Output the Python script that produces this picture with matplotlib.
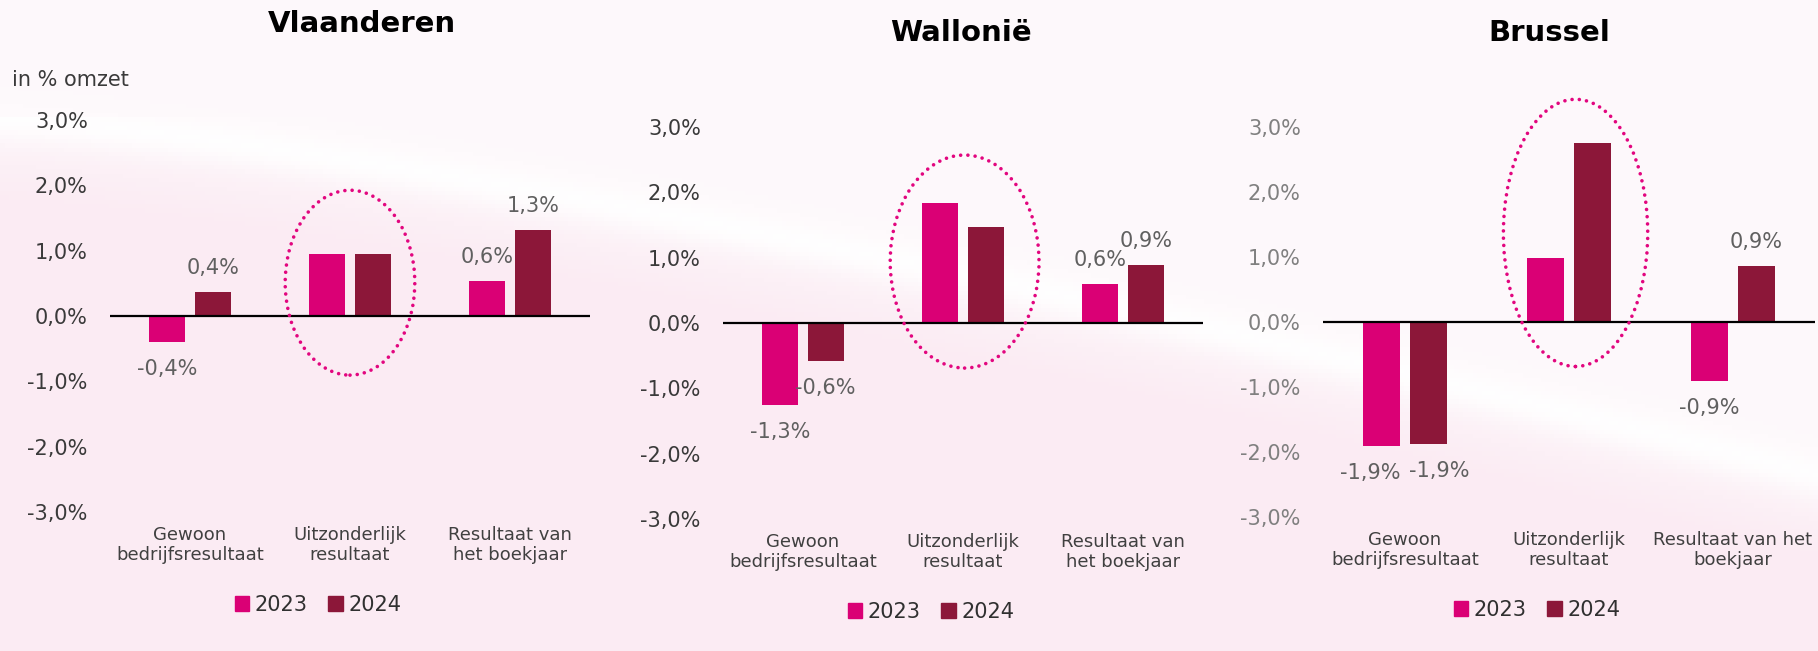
import numpy as np
import matplotlib
matplotlib.use("Agg")
import matplotlib.pyplot as plt
from matplotlib.patches import Ellipse, Patch

# ---------------------------------------------------------------------------
# Data (in % of turnover)
# ---------------------------------------------------------------------------
regions = ["Vlaanderen", "Wallonië", "Brussel"]
categories = [
    ["Gewoon\nbedrijfsresultaat", "Uitzonderlijk\nresultaat", "Resultaat van\nhet boekjaar"],
    ["Gewoon\nbedrijfsresultaat", "Uitzonderlijk\nresultaat", "Resultaat van\nhet boekjaar"],
    ["Gewoon\nbedrijfsresultaat", "Uitzonderlijk\nresultaat", "Resultaat van het\nboekjaar"],
]
years = ["2023", "2024"]

vlaanderen_2023 = [-0.40, 0.95, 0.54]
vlaanderen_2024 = [0.37, 0.95, 1.32]
wallonie_2023 = [-1.25, 1.84, 0.60]
wallonie_2024 = [-0.58, 1.47, 0.89]
brussel_2023 = [-1.91, 0.99, -0.91]
brussel_2024 = [-1.88, 2.76, 0.86]

# printed labels (None = no label)
vlaanderen_lbl_2023 = ["-0,4%", None, "0,6%"]
vlaanderen_lbl_2024 = ["0,4%", None, "1,3%"]
wallonie_lbl_2023 = ["-1,3%", None, "0,6%"]
wallonie_lbl_2024 = ["-0,6%", None, "0,9%"]
brussel_lbl_2023 = ["-1,9%", None, "-0,9%"]
brussel_lbl_2024 = ["-1,9%", None, "0,9%"]

yticks = [-3, -2, -1, 0, 1, 2, 3]
ytick_labels = ["-3,0%", "-2,0%", "-1,0%", "0,0%", "1,0%", "2,0%", "3,0%"]

series = [
    (vlaanderen_2023, vlaanderen_2024, vlaanderen_lbl_2023, vlaanderen_lbl_2024),
    (wallonie_2023, wallonie_2024, wallonie_lbl_2023, wallonie_lbl_2024),
    (brussel_2023, brussel_2024, brussel_lbl_2023, brussel_lbl_2024),
]

# ---------------------------------------------------------------------------
# Style / layout
# ---------------------------------------------------------------------------
C2023 = "#DA0075"
C2024 = "#8C1739"
CIRCLE = "#E2067F"
W, H = 1818, 651

# axes boxes in pixels: left, right, top(3,0%), bottom(-3,0%)
boxes = [(110, 590, 120, 512), (723, 1203, 127, 519), (1323, 1815, 127, 517)]
titles_xy = [(362, 24), (961, 33), (1549, 33)]
legend_xy = [(318, 605), (931, 612), (1537, 610)]
ellipses = [(1.0, 0.51, 0.81, 2.83), (1.01, 0.94, 0.93, 3.26), (1.04, 1.37, 0.88, 4.11)]
tick_colors = ["#3a3a3a", "#3a3a3a", "#808080"]
# horizontal nudges (points) for crowded labels: (panel, series, category)
nudges = {(2, 0, 0): -8, (2, 1, 0): 8}

plt.rcParams["font.family"] = ["DejaVu Sans"]

fig = plt.figure(figsize=(W / 100, H / 100), dpi=100)

# soft pink background with a white swoosh
bg = fig.add_axes([0, 0, 1, 1], zorder=-10)
xx, yy = np.meshgrid(np.linspace(0, 1, 400), np.linspace(0, 1, 150))
curve = 0.22 + 0.55 * xx ** 1.3
d = yy - curve
pink = np.array([0.985, 0.925, 0.955])
light = np.array([0.995, 0.975, 0.985])
mix = np.clip(d * 6 + 0.5, 0, 1)[..., None]
img = light * (1 - mix) + pink * mix
band = np.exp(-((d + 0.04) / 0.035) ** 2)[..., None]
img = img * (1 - band * 0.9) + np.array([1, 1, 1]) * band * 0.9
img[yy < 0.18] = img[yy < 0.18] * 0.4 + light * 0.6
bg.imshow(img, extent=[0, 1, 1, 0], aspect="auto")
bg.set_xlim(0, 1)
bg.set_ylim(1, 0)
bg.axis("off")

x = np.arange(3)
bw = 0.225
off = 0.142

for i, (l, r, t, b) in enumerate(boxes):
    ax = fig.add_axes([l / W, 1 - b / H, (r - l) / W, (b - t) / H])
    ax.patch.set_alpha(0)
    v23, v24, lb23, lb24 = series[i]
    ax.bar(x - off, v23, bw, color=C2023, zorder=3)
    ax.bar(x + off, v24, bw, color=C2024, zorder=3)
    ax.axhline(0, color="black", lw=1.6, zorder=4)
    for si, (xs, vals, lbls) in enumerate(((x - off, v23, lb23), (x + off, v24, lb24))):
        for ci, (xi, v, s) in enumerate(zip(xs, vals, lbls)):
            if s is None:
                continue
            dy = 17 if v >= 0 else -19.5
            dx = nudges.get((i, si, ci), 0)
            ax.annotate(s, (xi, v), xytext=(dx, dy), textcoords="offset points",
                        ha="center", va="center", fontsize=15, color="#606060")
    ex, ey, ew, eh = ellipses[i]
    ax.add_patch(Ellipse((ex, ey), ew, eh, fill=False, edgecolor=CIRCLE, lw=2.6,
                         linestyle=(0, (0.01, 2.0)), capstyle="round", zorder=5,
                         clip_on=False))
    ax.set_xlim(-0.5, 2.5)
    ax.set_ylim(-3, 3)
    ax.set_yticks(yticks)
    ax.set_yticklabels(ytick_labels)
    ax.set_xticks(x)
    ax.set_xticklabels(categories[i], linespacing=1.15)
    ax.tick_params(axis="y", length=0, pad=16, labelsize=15, labelcolor=tick_colors[i])
    ax.tick_params(axis="x", length=0, pad=10, labelsize=13, labelcolor="#404040")
    for sp in ax.spines.values():
        sp.set_visible(False)
    tx, ty = titles_xy[i]
    fig.text(tx / W, 1 - ty / H, regions[i], ha="center", va="center",
             fontsize=21, fontweight="bold", color="black")
    handles = [Patch(color=C2023), Patch(color=C2024)]
    lx, ly = legend_xy[i]
    fig.legend(handles, years, loc="center", bbox_to_anchor=(lx / W, 1 - ly / H),
               ncol=2, frameon=False, fontsize=15, handlelength=0.7, handleheight=0.7,
               handletextpad=0.25, columnspacing=1.0, borderpad=0, labelcolor="#303030")

fig.text(12 / W, 1 - 80 / H, "in % omzet", ha="left", va="center", fontsize=15,
         color="#3a3a3a")

fig.savefig("out.png", dpi=100)
